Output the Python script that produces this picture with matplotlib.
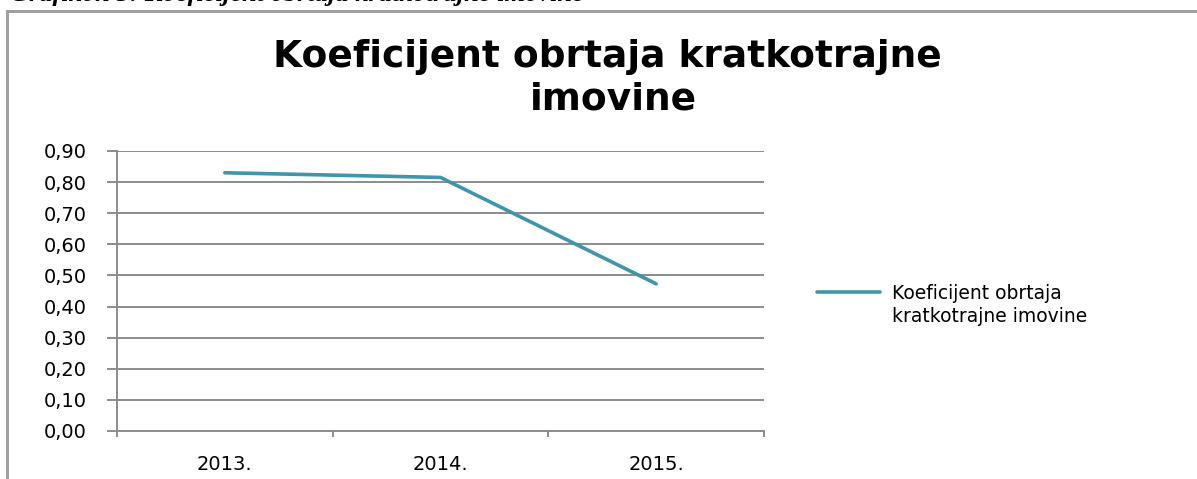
import matplotlib
matplotlib.use("Agg")
import matplotlib.pyplot as plt
from matplotlib.lines import Line2D
from matplotlib.patches import Rectangle

categories = ["2013.", "2014.", "2015."]
values = [0.83, 0.815, 0.473]
yticks = [0.0, 0.1, 0.2, 0.3, 0.4, 0.5, 0.6, 0.7, 0.8, 0.9]
ytick_labels = ["0,00", "0,10", "0,20", "0,30", "0,40", "0,50", "0,60", "0,70", "0,80", "0,90"]
title_lines = ["Koeficijent obrtaja kratkotrajne", "imovine"]
series_label = "Koeficijent obrtaja\nkratkotrajne imovine"
caption = "Grafikon 5: Koeficijent obrtaja kratkotrajne imovine"

W, H = 1197, 479
fig = plt.figure(figsize=(W / 100, H / 100), dpi=100)
fig.patch.set_facecolor("white")

line_color = "#3F95AB"
grid_color = "#8C8C8C"

# outer chart border
fig.add_artist(Rectangle((7 / W, -0.05), 1.2, 1 - 11 / H + 0.05, transform=fig.transFigure,
                         fill=False, edgecolor="#A0A0A0", linewidth=2.2))

# caption above the chart (cut off by the top edge, as in the reference)
fig.text(10 / W, 1 - 0.5 / H, caption, ha="left", va="baseline", fontsize=19,
         family="Liberation Serif", fontweight="bold", style="italic", color="black")

ax = fig.add_axes([117 / W, 1 - 431 / H, (764 - 117) / W, (431 - 151) / H])
x = list(range(len(categories)))
ax.plot(x, values, color=line_color, linewidth=2.6, solid_capstyle="round")
ax.set_xlim(-0.5, len(categories) - 0.5)
ax.set_ylim(0, 0.9)
ax.set_yticks(yticks)
ax.set_yticklabels(ytick_labels)
ax.set_xticks(x)
ax.set_xticklabels(categories)
ax.set_xticks([i - 0.5 for i in range(len(categories) + 1)], minor=True)
ax.grid(axis="y", color=grid_color, linewidth=1.4)
ax.set_axisbelow(True)
for s in ["top", "right"]:
    ax.spines[s].set_visible(False)
ax.spines["left"].set_color(grid_color)
ax.spines["bottom"].set_color(grid_color)
ax.spines["left"].set_linewidth(1.4)
ax.spines["bottom"].set_linewidth(1.4)
ax.tick_params(axis="y", length=7, width=1.4, color=grid_color, pad=15, labelsize=14)
ax.tick_params(axis="x", which="major", length=0, pad=17, labelsize=14)
ax.tick_params(axis="x", which="minor", length=4, width=1.4, color=grid_color)

fig.text(607 / W, 1 - 57 / H, title_lines[0], ha="center", va="center",
         fontsize=27, fontweight="bold")
fig.text(613 / W, 1 - 100 / H, title_lines[1], ha="center", va="center",
         fontsize=27, fontweight="bold")

# legend
fig.add_artist(Line2D([817 / W, 880 / W], [1 - 292 / H, 1 - 292 / H], transform=fig.transFigure,
                      color=line_color, linewidth=2.6, solid_capstyle="round"))
fig.text(892 / W, 1 - 305 / H, series_label, ha="left", va="center", fontsize=13.5,
         linespacing=1.3)

fig.savefig("out.png", dpi=100)
